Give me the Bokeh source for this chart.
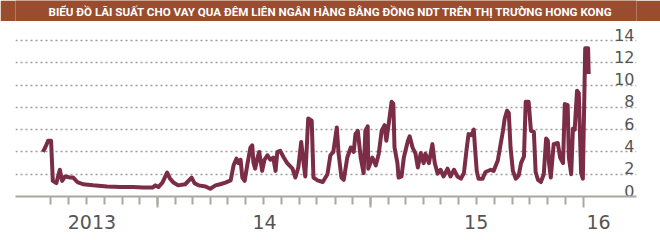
import pandas as pd
from bokeh.plotting import figure
from bokeh.models import FixedTicker, Grid, Range1d, LinearAxis, Label, CustomLabelingPolicy
from bokeh.layouts import column
from bokeh.embed import file_html
from bokeh.resources import INLINE
from bokeh.core.properties import value

title_text = "BIỂU ĐỒ LÃI SUẤT CHO VAY QUA ĐÊM LIÊN NGÂN HÀNG BẰNG ĐỒNG NDT TRÊN THỊ TRƯỜNG HONG KONG"

dates_2013 = ["2013-06-18", "2013-06-22", "2013-06-27", "2013-07-02", "2013-07-05", "2013-07-11",
              "2013-07-17", "2013-07-21", "2013-07-26", "2013-08-04", "2013-08-09", "2013-08-16",
              "2013-08-26", "2013-09-12", "2013-10-06", "2013-10-29", "2013-11-20", "2013-12-07",
              "2013-12-23", "2013-12-28"]
rates_2013 = [4.0, 4.4, 5.0, 5.0, 1.4, 1.2, 2.4, 1.4, 1.8, 1.7, 1.7, 1.3, 1.1, 1.0, 0.9, 0.85, 0.85,
              0.8, 0.8, 1.0]

dates_2014 = ["2014-01-02", "2014-01-09", "2014-01-17", "2014-01-22", "2014-01-28", "2014-02-05",
              "2014-02-17", "2014-02-28", "2014-03-05", "2014-03-12", "2014-03-24", "2014-04-01",
              "2014-04-10", "2014-04-18", "2014-04-27", "2014-05-06", "2014-05-11", "2014-05-16",
              "2014-05-19", "2014-05-23", "2014-05-26", "2014-05-30", "2014-06-04", "2014-06-09",
              "2014-06-12", "2014-06-14", "2014-06-17", "2014-06-21", "2014-06-24", "2014-06-29",
              "2014-07-03", "2014-07-08", "2014-07-13", "2014-07-18", "2014-07-22", "2014-07-25",
              "2014-07-30", "2014-08-05", "2014-08-11", "2014-08-20", "2014-08-25", "2014-08-30",
              "2014-09-04", "2014-09-08", "2014-09-11", "2014-09-16", "2014-09-22", "2014-09-25",
              "2014-10-02", "2014-10-11", "2014-10-19", "2014-10-24", "2014-10-29", "2014-11-04",
              "2014-11-07", "2014-11-12", "2014-11-16", "2014-11-22", "2014-11-28", "2014-12-03",
              "2014-12-06", "2014-12-10", "2014-12-15", "2014-12-20", "2014-12-23", "2014-12-27",
              "2014-12-28"]
rates_2014 = [0.85, 1.25, 2.15, 1.6, 1.25, 1.0, 1.1, 1.7, 1.2, 1.0,
              0.9, 0.7, 1.0, 1.1, 1.25, 1.45, 2.8, 3.4, 3.0, 3.3,
              1.7, 1.4, 3.0, 4.4, 4.6, 3.05, 2.5, 3.5, 4.0, 2.3,
              3.3, 3.7, 3.3, 3.5, 2.3, 4.0, 4.1, 3.5, 3.0, 2.5,
              1.7, 2.6, 4.9, 3.0, 1.8, 7.0, 6.8, 1.7, 1.45, 1.3,
              2.0, 3.7, 4.0, 6.2, 3.9, 1.7, 1.5, 3.5, 4.4, 4.0,
              5.6, 5.9, 3.5, 2.1, 5.9, 6.3, 2.5]

dates_2015 = ["2015-01-04", "2015-01-10", "2015-01-15", "2015-01-20", "2015-01-25", "2015-01-28",
              "2015-02-01", "2015-02-06", "2015-02-09", "2015-02-11", "2015-02-16", "2015-02-18",
              "2015-02-23", "2015-02-27", "2015-03-06", "2015-03-09", "2015-03-14", "2015-03-19",
              "2015-03-23", "2015-03-28", "2015-04-02", "2015-04-05", "2015-04-11", "2015-04-17",
              "2015-04-21", "2015-04-26", "2015-05-01", "2015-05-06", "2015-05-13", "2015-05-18",
              "2015-05-24", "2015-05-30", "2015-06-05", "2015-06-10", "2015-06-15", "2015-06-18",
              "2015-06-23", "2015-06-27", "2015-06-29", "2015-07-02", "2015-07-05", "2015-07-12",
              "2015-07-17", "2015-07-26", "2015-07-31", "2015-08-07", "2015-08-11", "2015-08-16",
              "2015-08-19", "2015-08-23", "2015-08-26", "2015-08-29", "2015-09-02", "2015-09-07",
              "2015-09-12", "2015-09-16", "2015-09-21", "2015-09-24", "2015-09-29", "2015-10-03",
              "2015-10-08", "2015-10-11", "2015-10-15", "2015-10-20", "2015-10-25", "2015-10-29",
              "2015-11-01", "2015-11-03", "2015-11-06", "2015-11-11", "2015-11-18", "2015-11-22",
              "2015-11-27", "2015-11-30", "2015-12-05", "2015-12-07", "2015-12-11", "2015-12-14",
              "2015-12-17", "2015-12-21", "2015-12-24", "2015-12-28", "2015-12-31"]
rates_2015 = [3.5, 2.8, 3.85, 5.9, 6.4, 5.0, 6.5, 8.5, 8.3, 4.4,
              3.0, 1.7, 1.8, 3.5, 5.0, 5.4, 4.4, 3.85, 2.6, 3.9,
              3.0, 3.85, 3.0, 4.7, 3.0, 2.05, 2.4, 1.8, 2.5, 1.8,
              2.4, 1.8, 1.6, 2.1, 4.4, 5.6, 5.5, 6.0, 4.4, 2.3,
              1.6, 1.6, 2.2, 2.4, 2.3, 3.2, 4.4, 5.9, 7.0, 7.7,
              7.5, 4.4, 2.3, 1.6, 1.9, 3.0, 3.6, 8.5, 8.5, 5.9,
              5.8, 2.2, 1.5, 1.3, 2.0, 5.2, 5.0, 3.0, 1.7, 4.7,
              4.8, 3.5, 3.0, 8.3, 8.2, 3.5, 2.0, 6.1, 6.0, 9.5,
              9.3, 2.1, 1.6]

dates_2016 = ["2016-01-04", "2016-01-09", "2016-01-10"]
rates_2016 = [13.3, 13.3, 11.0]

y_ticks = [0, 2, 4, 6, 8, 10, 12, 14]
y_tick_labels = ["0", "2", "4", "6", "8", "10", "12", "14"]
year_starts = ["2014-01-01", "2015-01-01", "2016-01-01"]
month_starts = pd.date_range("2013-07-01", "2015-12-01", freq="MS")
year_label_dates = ["2013-09-10", "2014-07-03", "2015-07-01", "2016-01-27"]
year_labels = ["2013", "14", "15", "16"]
x_start, x_end = "2013-05-02", "2016-04-01"
y_start, y_end = 0, 15.62

dates = pd.to_datetime(dates_2013 + dates_2014 + dates_2015 + dates_2016)
rates = rates_2013 + rates_2014 + rates_2015 + rates_2016


def ms(d):
    return int(pd.Timestamp(d).value // 10**6)


BAR = "#9a4c2e"
AXIS = "#aca79f"
LABEL = "#555555"

# title bar
top = figure(width=660, height=21, x_range=(0, 1), y_range=(0, 1), toolbar_location=None,
             output_backend="svg", min_border=0, x_axis_location=None, y_axis_location=None)
top.background_fill_color = BAR
top.border_fill_color = BAR
top.outline_line_color = None
top.grid.visible = False
top.add_layout(Label(x=33, y=10, x_units="screen", y_units="screen", text=title_text,
                     text_align="left", text_baseline="middle", text_color="white",
                     text_font="Roboto", text_font_style="bold", text_font_size="11.6px"))

# main chart
p = figure(width=660, height=219, x_axis_type="datetime",
           x_range=Range1d(pd.Timestamp(x_start), pd.Timestamp(x_end)),
           y_range=Range1d(y_start, y_end), y_axis_location=None,
           toolbar_location=None, output_backend="svg",
           min_border_left=15, min_border_right=24, min_border_top=1, min_border_bottom=44)
p.background_fill_color = "white"
p.border_fill_color = "white"
p.outline_line_color = None
p.grid.visible = False

p.add_layout(Grid(dimension=1, ticker=FixedTicker(ticks=y_ticks[1:]),
                  grid_line_color="#9c9c9c", grid_line_dash="2 3", grid_line_width=1.3))

ax = p.xaxis[0]
ax.ticker = FixedTicker(ticks=[ms(d) for d in year_starts],
                        minor_ticks=[ms(d) for d in month_starts])
ax.axis_line_color = AXIS
ax.axis_line_width = 2
ax.major_tick_line_color = AXIS
ax.major_tick_line_width = 2
ax.major_tick_in = 0
ax.major_tick_out = 11
ax.minor_tick_line_color = AXIS
ax.minor_tick_line_width = 2
ax.minor_tick_in = 0
ax.minor_tick_out = 8
ax.major_label_text_font_size = "1px"
ax.major_label_standoff = 0
ax.major_label_policy = CustomLabelingPolicy(code="return new Set()")

lab_ticks = [ms(d) for d in year_label_dates]
lab_axis = LinearAxis(ticker=FixedTicker(ticks=lab_ticks),
                      major_label_overrides={t: s for t, s in zip(lab_ticks, year_labels)},
                      axis_line_color=None, major_tick_line_color=None, minor_tick_line_color=None,
                      major_tick_out=0, major_tick_in=0, minor_tick_out=0, minor_tick_in=0,
                      major_label_standoff=3, major_label_text_font="DejaVu Sans",
                      major_label_text_font_size="19px", major_label_text_color=LABEL)
p.add_layout(lab_axis, "below")

p.line(x=dates, y=rates, line_color="#7b2c47", line_width=4, line_join="round")

p.text(x=[pd.Timestamp(x_end)] * len(y_ticks), y=y_ticks, text=y_tick_labels,
       text_align="right", text_baseline="bottom", x_offset=-2,
       text_font=value("DejaVu Sans"), text_font_size="16px", text_color=LABEL)

layout = column(top, p, spacing=0)
open("out.html", "w").write(file_html(layout, INLINE))
